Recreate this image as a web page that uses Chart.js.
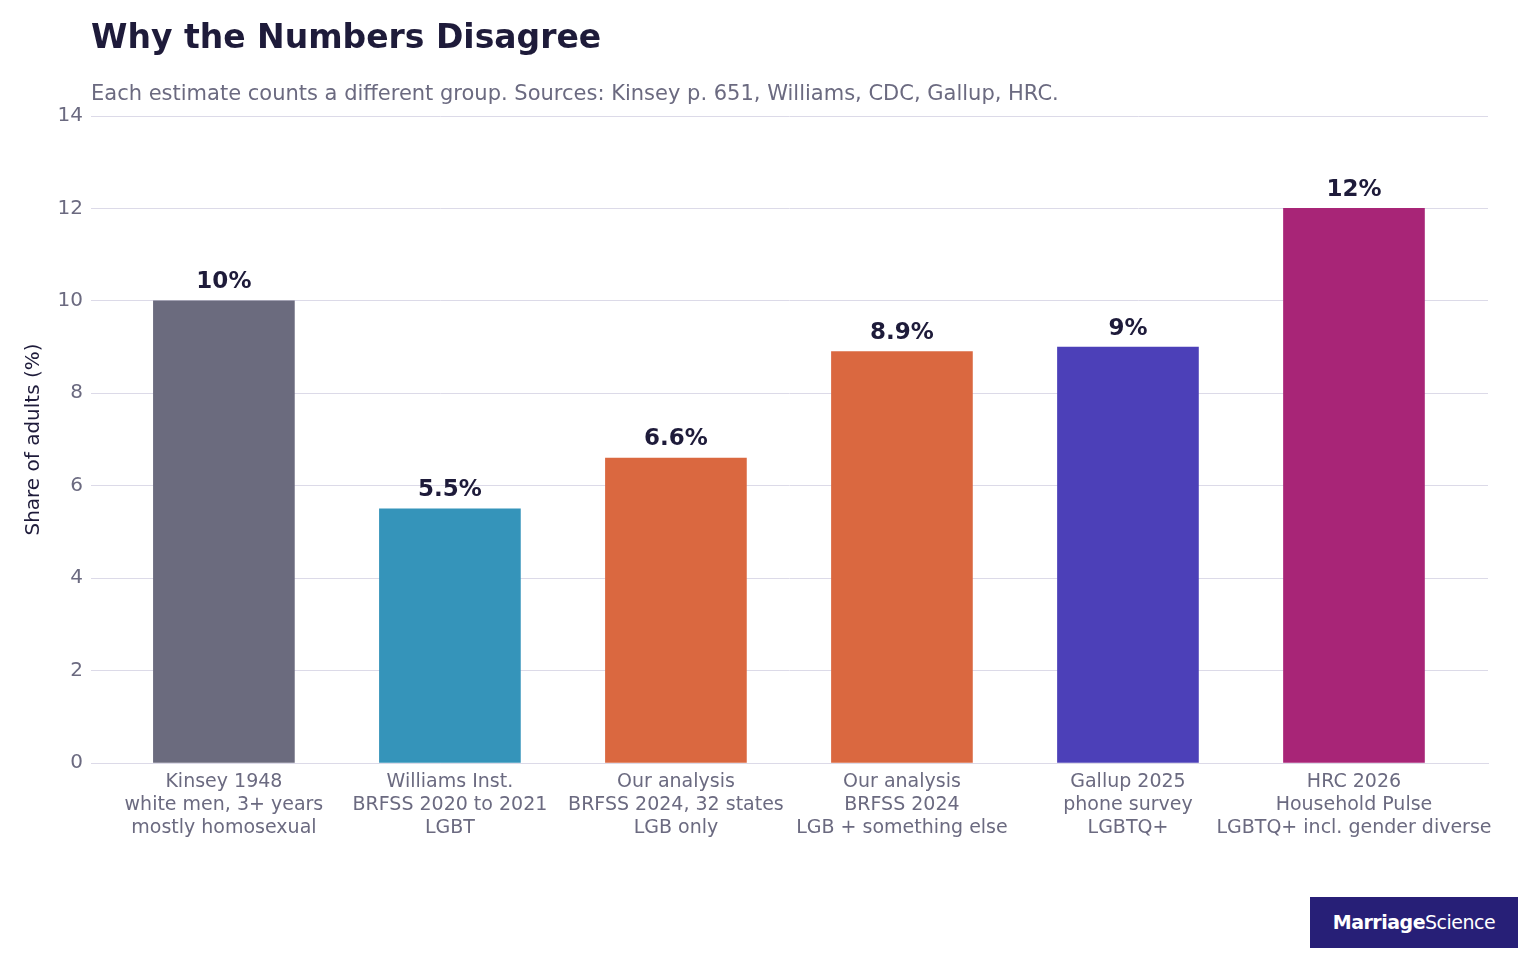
<!DOCTYPE html>
<html>
<head>
<meta charset="utf-8">
<script src="https://cdn.jsdelivr.net/npm/chart.js@4"></script>
<style>
    body { margin: 0; background: #fff; font-family: "DejaVu Sans", sans-serif; }
    .wrap { position: relative; width: 1536px; height: 960px; }
    h1 { position: absolute; left: 91px; top: 17px; margin: 0; font-size: 33px; color: #1e1b3a; }
    .sub { position: absolute; left: 91px; top: 81px; font-size: 21px; color: #6b6a80; }
    .logo { position: absolute; left: 1310px; top: 897px; width: 208px; height: 51px; background: #271f77;
            color: #fff; font-size: 19px; line-height: 51px; text-align: center; letter-spacing: -0.5px; }
    canvas { position: absolute; left: 0; top: 0; }
</style>
</head>
<body>
<div class="wrap">
    <canvas id="chart" width="1536" height="960"></canvas>
    <h1>Why the Numbers Disagree</h1>
    <div class="sub">Each estimate counts a different group. Sources: Kinsey p. 651, Williams, CDC, Gallup, HRC.</div>
    <div class="logo"><b>Marriage</b>Science</div>
</div>
<script>
const categories = [
    ['Kinsey 1948', 'white men, 3+ years', 'mostly homosexual'],
    ['Williams Inst.', 'BRFSS 2020 to 2021', 'LGBT'],
    ['Our analysis', 'BRFSS 2024, 32 states', 'LGB only'],
    ['Our analysis', 'BRFSS 2024', 'LGB + something else'],
    ['Gallup 2025', 'phone survey', 'LGBTQ+'],
    ['HRC 2026', 'Household Pulse', 'LGBTQ+ incl. gender diverse']
];
const values = [10, 5.5, 6.6, 8.9, 9, 12];
const valueLabels = ['10%', '5.5%', '6.6%', '8.9%', '9%', '12%'];
const barColors = ['#6b6b7e', '#3594ba', '#da6840', '#da6840', '#4c40b8', '#a82577'];

// Value labels above the bars
const barLabels = {
    id: 'barLabels',
    afterDatasetsDraw(chart) {
        const ctx = chart.ctx;
        ctx.save();
        ctx.font = 'bold 23px "DejaVu Sans"';
        ctx.fillStyle = '#1e1b3a';
        ctx.textAlign = 'center';
        ctx.textBaseline = 'bottom';
        chart.getDatasetMeta(0).data.forEach((bar, i) => {
            ctx.fillText(valueLabels[i], bar.x, bar.y - 7);
        });
        ctx.restore();
    }
};

new Chart(document.getElementById('chart'), {
    type: 'bar',
    data: {
        datasets: [{
            data: values.map((v, i) => ({ x: i, y: v })),
            backgroundColor: barColors,
            borderWidth: 0,
            barThickness: 141
        }]
    },
    options: {
        responsive: false,
        animation: false,
        layout: { padding: { left: 0, right: 48, top: 116, bottom: 0 } },
        plugins: { legend: { display: false }, tooltip: { enabled: false } },
        scales: {
            x: {
                type: 'linear',
                offset: false,
                min: -0.588,
                max: 5.593,
                grid: { display: false },
                border: { color: '#dcdae8' },
                afterBuildTicks(axis) { axis.ticks = categories.map((c, i) => ({ value: i })); },
                ticks: {
                    autoSkip: false,
                    color: '#6b6a80',
                    font: { size: 19, family: 'DejaVu Sans' },
                    maxRotation: 0,
                    padding: 0,
                    callback: v => categories[v]
                },
                afterFit(axis) { axis.height = 197; }
            },
            y: {
                min: 0,
                max: 14,
                ticks: { stepSize: 2, color: '#6b6a80', font: { size: 20, family: 'DejaVu Sans' }, padding: 8 },
                grid: { color: '#dcdae8', drawTicks: false },
                border: { display: false },
                title: { display: true, text: 'Share of adults (%)', color: '#1e1b3a', font: { size: 20, family: 'DejaVu Sans' }, padding: { top: 22, bottom: 6 } },
                afterFit(axis) { axis.width = 91; }
            }
        }
    },
    plugins: [barLabels]
});
</script>
</body>
</html>
